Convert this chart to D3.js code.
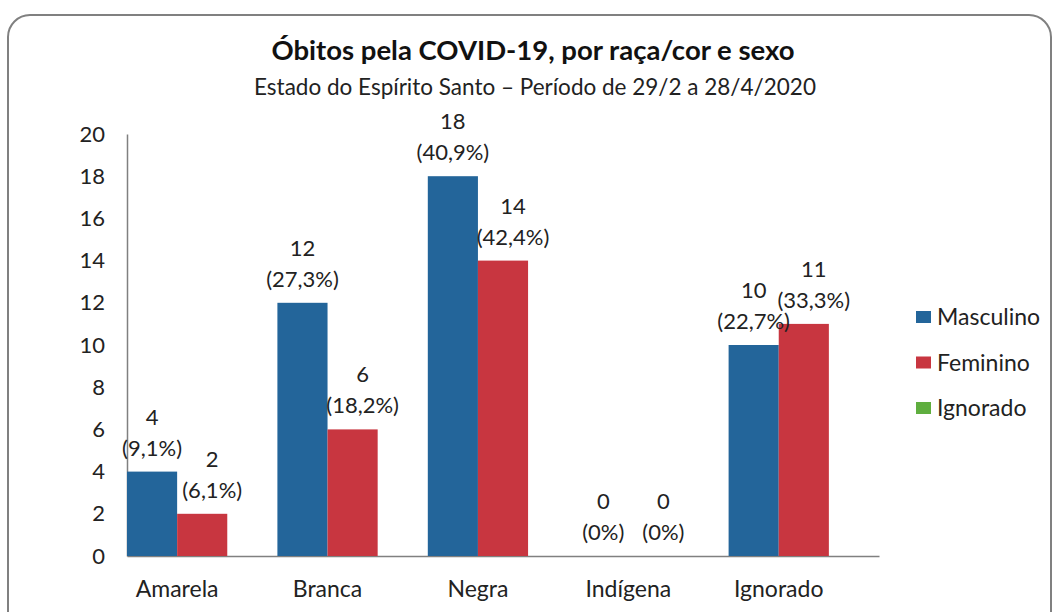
<!DOCTYPE html>
<html>
<head>
<meta charset="utf-8">
<script src="https://cdn.jsdelivr.net/npm/d3@7"></script>
<style>
  body { margin: 0; background: #fff; }
  svg { display: block; font-family: Lato, "Open Sans", sans-serif; }
</style>
</head>
<body>
<svg width="1056" height="612"></svg>
<script>
// data
const categories = ["Amarela", "Branca", "Negra", "Indígena", "Ignorado"];
const masculino = [4, 12, 18, 0, 10];
const feminino = [2, 6, 14, 0, 11];
const masculinoPct = ["9,1%", "27,3%", "40,9%", "0%", "22,7%"];
const femininoPct = ["6,1%", "18,2%", "42,4%", "0%", "33,3%"];
const legendItems = ["Masculino", "Feminino", "Ignorado"];
const yTicks = [0, 2, 4, 6, 8, 10, 12, 14, 16, 18, 20];

const colors = { "Masculino": "#23659a", "Feminino": "#c83640", "Ignorado": "#5fae3f" };
const series = ["Masculino", "Feminino"];

const svg = d3.select("svg");
const width = 1056, height = 612;
const margin = { top: 134, left: 127, right: 177, bottom: 56 };

// frame
svg.append("rect")
    .attr("x", 8).attr("y", 15)
    .attr("width", 1043).attr("height", 640)
    .attr("rx", 22)
    .attr("fill", "#fff")
    .attr("stroke", "#808080")
    .attr("stroke-width", 2);

// titles
svg.append("text")
    .attr("x", 533).attr("y", 60)
    .attr("text-anchor", "middle")
    .style("font-size", "27.5px").style("font-weight", "bold")
    .attr("fill", "#111")
    .text("Óbitos pela COVID-19, por raça/cor e sexo");

svg.append("text")
    .attr("x", 535).attr("y", 95)
    .attr("text-anchor", "middle")
    .style("font-size", "22.5px")
    .attr("fill", "#222")
    .text("Estado do Espírito Santo – Período de 29/2 a 28/4/2020");

const x0 = d3.scaleBand()
    .domain(categories)
    .range([margin.left, width - margin.right]);

// bars sit at the left of each category slot
const groupWidth = x0.bandwidth() * 2 / 3;
const x1 = d3.scaleBand()
    .domain(series)
    .range([0, groupWidth]);

const y = d3.scaleLinear()
    .domain([0, 20])
    .range([height - margin.bottom, margin.top]);

// y axis
const yAxis = svg.append("g")
    .attr("transform", `translate(${margin.left},0)`)
    .call(d3.axisLeft(y).tickValues(yTicks).tickSize(0).tickPadding(22));
yAxis.select(".domain").attr("stroke", "#808080").attr("stroke-width", 1.5);
yAxis.selectAll("text")
    .style("font-size", "22px")
    .style("font-family", "Lato, sans-serif")
    .attr("fill", "#222");

// x axis
const xAxis = svg.append("g")
    .attr("transform", `translate(0,${y(0)})`)
    .call(d3.axisBottom(x0).tickSize(0).tickPadding(25));
xAxis.select(".domain").attr("stroke", "#808080").attr("stroke-width", 1.5);
xAxis.selectAll("text")
    .attr("dx", groupWidth / 2 - x0.bandwidth() / 2)
    .style("font-size", "23px")
    .style("font-family", "Lato, sans-serif")
    .attr("fill", "#222");

const rows = categories.map((c, i) => ({
    cat: c,
    values: [
        { key: "Masculino", v: masculino[i], pct: masculinoPct[i] },
        { key: "Feminino", v: feminino[i], pct: femininoPct[i] }
    ]
}));

const groups = svg.append("g")
    .selectAll("g")
    .data(rows)
    .join("g")
    .attr("transform", d => `translate(${x0(d.cat)},0)`);

groups.selectAll("rect")
    .data(d => d.values)
    .join("rect")
    .attr("x", d => x1(d.key))
    .attr("y", d => y(d.v))
    .attr("width", x1.bandwidth())
    .attr("height", d => y(0) - y(d.v))
    .attr("fill", d => colors[d.key]);

// value labels (number on top, percentage below)
const labels = groups.selectAll("g.lbl")
    .data(d => d.values)
    .join("g")
    .attr("class", "lbl")
    .attr("transform", d => {
        const dx = d.key === "Feminino" ? 10 : 0;
        return `translate(${x1(d.key) + x1.bandwidth() / 2 + dx},${y(d.v)})`;
    });

labels.append("text")
    .attr("y", -47)
    .attr("text-anchor", "middle")
    .style("font-size", "22px")
    .attr("fill", "#222")
    .text(d => d.v);

labels.append("text")
    .attr("y", -16)
    .attr("text-anchor", "middle")
    .style("font-size", "22px")
    .attr("fill", "#222")
    .text(d => "(" + d.pct + ")");

// legend
const legend = svg.append("g")
    .attr("transform", "translate(916,311)")
    .selectAll("g")
    .data(legendItems)
    .join("g")
    .attr("transform", (d, i) => `translate(0,${i * 45.5})`);

legend.append("rect")
    .attr("width", 15).attr("height", 12)
    .attr("fill", d => colors[d]);

legend.append("text")
    .attr("x", 21).attr("y", 14)
    .style("font-size", "23px")
    .attr("fill", "#222")
    .text(d => d);
</script>
</body>
</html>
